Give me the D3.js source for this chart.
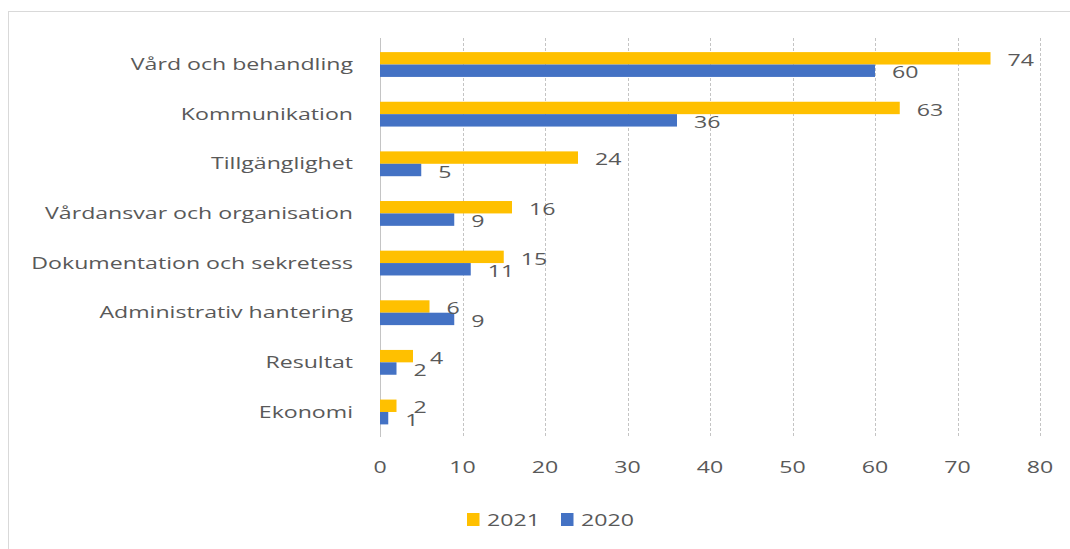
<!DOCTYPE html>
<html>
<head>
<meta charset="utf-8">
<script src="https://cdn.jsdelivr.net/npm/d3@7"></script>
<style>
  body { margin: 0; background: #fff; }
  svg text { font-family: "Open Sans", sans-serif; fill: #595959; }
</style>
</head>
<body>
<svg id="chart" width="1070" height="549"></svg>
<script>
// data
var categories = ["Vård och behandling", "Kommunikation", "Tillgänglighet",
  "Vårdansvar och organisation", "Dokumentation och sekretess",
  "Administrativ hantering", "Resultat", "Ekonomi"];
var series2021 = [74, 63, 24, 16, 15, 6, 4, 2];
var series2020 = [60, 36, 5, 9, 11, 9, 2, 1];
var seriesNames = ["2021", "2020"];
var xTicks = [0, 10, 20, 30, 40, 50, 60, 70, 80];

var colors = { "2021": "#FFC000", "2020": "#4472C4" };
var fontSize = 17;
var sx = 1.36; // the source picture is stretched sideways

var svg = d3.select("#chart");

// outer frame
svg.append("rect")
  .attr("x", 8.5).attr("y", 11.5)
  .attr("width", 1080).attr("height", 560)
  .attr("fill", "none")
  .attr("stroke", "#d9d9d9");

var x = d3.scaleLinear().domain([0, 80]).range([380, 1040]);
var y = d3.scaleBand().domain(categories).range([39.7, 436.8])
  .paddingInner(0.5).paddingOuter(0.25);
var sub = d3.scaleBand().domain(seriesNames).range([0, y.bandwidth()]);

// stretched text helper
function txt(g, x0, y0, s, anchor) {
  return g.append("text")
    .attr("transform", "translate(" + x0 + "," + y0 + ") scale(" + sx + ",1)")
    .attr("text-anchor", anchor || "start")
    .attr("dominant-baseline", "central")
    .attr("font-size", fontSize)
    .text(s);
}

// grid
svg.append("g").selectAll("line")
  .data(xTicks)
  .join("line")
    .attr("x1", d => Math.round(x(d)) + 0.5)
    .attr("x2", d => Math.round(x(d)) + 0.5)
    .attr("y1", 38).attr("y2", 437)
    .attr("stroke", "#c4c4c4")
    .attr("stroke-dasharray", d => d === 0 ? null : "3,2");

// bars
var rows = categories.map((c, i) => ({ cat: c, v: { "2021": series2021[i], "2020": series2020[i] } }));
var bars = svg.append("g");
seriesNames.forEach(function (s) {
  bars.selectAll(".b" + s)
    .data(rows)
    .join("rect")
      .attr("x", x(0))
      .attr("y", d => y(d.cat) + sub(s))
      .attr("width", d => x(d.v[s]) - x(0))
      .attr("height", sub.bandwidth())
      .attr("fill", colors[s]);
});

// value labels
var labels = svg.append("g");
seriesNames.forEach(function (s) {
  rows.forEach(function (d) {
    txt(labels, x(d.v[s]) + 17, y(d.cat) + sub(s) + sub.bandwidth() / 2 + 1, d.v[s]);
  });
});

// category labels
var cats = svg.append("g");
categories.forEach(function (c) {
  txt(cats, 353, y(c) + y.bandwidth() / 2 - 1, c, "end");
});

// x tick labels
var ticks = svg.append("g");
xTicks.forEach(function (t) {
  txt(ticks, x(t), 466, t, "middle");
});

// legend
var leg = svg.append("g");
var legX = [467, 561];
seriesNames.forEach(function (s, i) {
  leg.append("rect")
    .attr("x", legX[i]).attr("y", 513)
    .attr("width", 12.5).attr("height", 13)
    .attr("fill", colors[s]);
  txt(leg, legX[i] + 20, 519.5, s);
});
</script>
</body>
</html>
